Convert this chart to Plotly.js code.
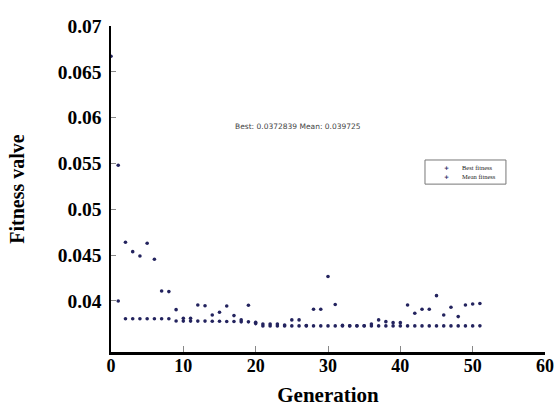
<!DOCTYPE html>
<html>
<head>
<meta charset="utf-8">
<script src="https://cdn.plot.ly/plotly-3.0.1.min.js"></script>
<style>html,body{margin:0;padding:0;background:#fff;}#chart{width:558px;height:407px;}</style>
</head>
<body>
<div id="chart"></div>
<script>
const generation = [0,1,2,3,4,5,6,7,8,9,10,11,12,13,14,15,16,17,18,19,20,21,22,23,24,25,26,27,28,29,30,31,32,33,34,35,36,37,38,39,40,41,42,43,44,45,46,47,48,49,50,51];
const bestFitness = [null,0.0400,0.03805,0.03805,0.03805,0.03805,0.03805,0.03805,0.03805,0.03782,0.0378,0.0378,0.0378,0.0378,0.03778,0.03778,0.03776,0.03776,0.03772,0.03772,0.03753,0.03728,0.03728,0.03728,0.03728,0.03728,0.03728,0.03728,0.03728,0.03728,0.03728,0.03728,0.03728,0.03728,0.03728,0.03728,0.03728,0.03728,0.03728,0.03728,0.03728,0.03728,0.03728,0.03728,0.03728,0.03728,0.03728,0.03728,0.03728,0.03728,0.03728,0.0372839];
const meanFitness = [0.0667,0.0548,0.0464,0.04538,0.04491,0.0463,0.04455,0.04109,0.04102,0.03905,0.0381,0.0381,0.03956,0.03947,0.03847,0.03876,0.03945,0.0384,0.03793,0.03953,0.03767,0.03749,0.03749,0.03749,0.03738,0.03793,0.03793,0.03731,0.03909,0.03909,0.04266,0.03962,0.03733,0.0373,0.0373,0.0373,0.03748,0.03793,0.03774,0.03763,0.03763,0.03956,0.03865,0.03909,0.03909,0.04058,0.03847,0.03931,0.03829,0.03956,0.03967,0.039725];
const seriesNames = ['Best fitness','Mean fitness'];
const yTickVals = [0.04,0.045,0.05,0.055,0.06,0.065,0.07];
const yTickText = ['0.04','0.045','0.05','0.055','0.06','0.065','0.07'];
const xTickVals = [0,10,20,30,40,50,60];
const xTickText = ['0','10','20','30','40','50','60'];
const titleText = 'Best: 0.0372839 Mean: 0.039725';
const xTitle = 'Generation';
const yTitle = 'Fitness valve';

const markerColor = '#23235e';
const traces = [
  {x: generation, y: bestFitness, name: seriesNames[0], type: 'scatter', mode: 'markers',
   marker: {symbol: 'circle', size: 3.6, color: markerColor}, cliponaxis: false, showlegend: false},
  {x: generation, y: meanFitness, name: seriesNames[1], type: 'scatter', mode: 'markers',
   marker: {symbol: 'circle', size: 3.6, color: markerColor}, cliponaxis: false, showlegend: false}
];
const serif = 'Liberation Serif, Times New Roman, serif';
const xTickFont = {family: serif, size: 18, color: '#000', weight: 700};
const yTickFont = {family: serif, size: 19.5, color: '#000', weight: 700};

// compact legend box (paper coordinates)
const legX0 = 0.7235, legX1 = 0.910, legY0 = 0.515, legY1 = 0.589;
const legMarkX = 0.772, legTextX = 0.804, legRowY = [0.567, 0.537];
const legendAnns = [];
seriesNames.forEach((n, i) => {
  legendAnns.push({text: '<b>+</b>', xref: 'paper', yref: 'paper', x: legMarkX, y: legRowY[i],
    xanchor: 'center', yanchor: 'middle', showarrow: false,
    font: {family: 'DejaVu Sans, sans-serif', size: 6, color: markerColor}});
  legendAnns.push({text: n, xref: 'paper', yref: 'paper', x: legTextX, y: legRowY[i],
    xanchor: 'left', yanchor: 'middle', showarrow: false,
    font: {family: serif, size: 6.5, color: '#222'}});
});

const layout = {
  width: 558, height: 407,
  margin: {l: 111, r: 13, t: 26, b: 55, pad: 0},
  paper_bgcolor: '#fff', plot_bgcolor: '#fff',
  showlegend: false,
  xaxis: {range: [0, 60], tickvals: xTickVals, ticktext: xTickText,
    ticks: 'inside', ticklen: 6, tickwidth: 1, tickcolor: '#888',
    showline: true, linecolor: '#000', linewidth: 2.5, mirror: false,
    showgrid: false, zeroline: false, tickfont: xTickFont, ticklabelstandoff: -4,
    title: {text: xTitle, font: {family: serif, size: 21, color: '#000', weight: 700}, standoff: 18}},
  yaxis: {range: [0.03443, 0.07], tickvals: yTickVals, ticktext: yTickText,
    ticks: 'inside', ticklen: 5, tickwidth: 1, tickcolor: '#888',
    showline: true, linecolor: '#000', linewidth: 2.5, mirror: false,
    showgrid: false, zeroline: false, tickfont: yTickFont, ticklabelstandoff: 3,
    title: {text: yTitle, font: {family: serif, size: 20, color: '#000', weight: 700}, standoff: 28}},
  shapes: [{type: 'rect', xref: 'paper', yref: 'paper', x0: legX0, x1: legX1, y0: legY0, y1: legY1,
    line: {color: '#777', width: 1}, fillcolor: '#fff', layer: 'above'}],
  annotations: [{text: titleText, xref: 'paper', yref: 'paper', x: 0.43, y: 0.693,
    xanchor: 'center', yanchor: 'middle', showarrow: false,
    font: {family: 'DejaVu Sans, sans-serif', size: 7.5, color: '#444'}}].concat(legendAnns)
};
Plotly.newPlot('chart', traces, layout, {displayModeBar: false, staticPlot: true});
</script>
</body>
</html>
